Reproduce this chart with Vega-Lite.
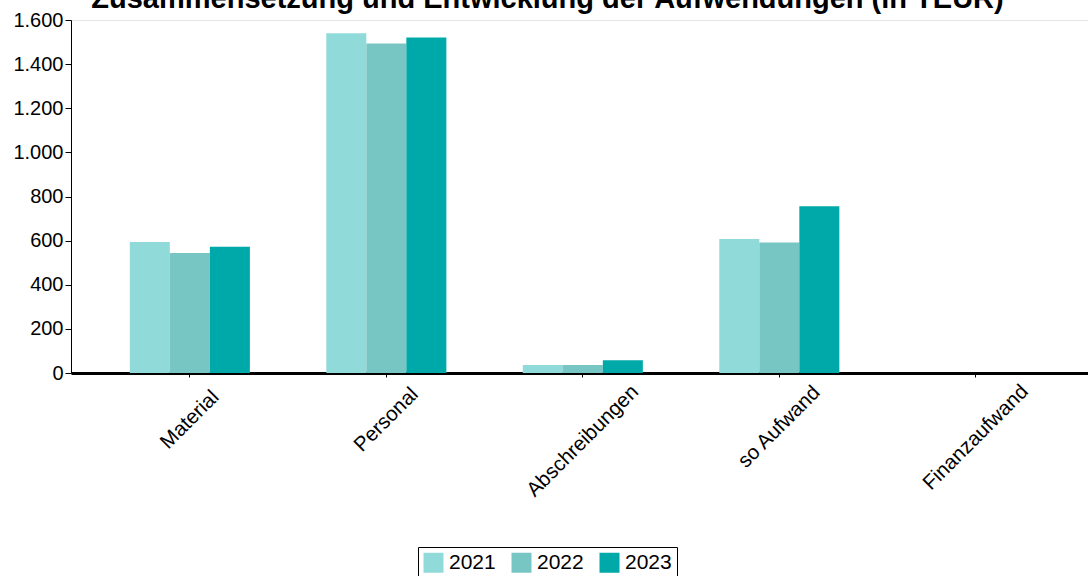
{
  "$schema": "https://vega.github.io/schema/vega-lite/v6.json",
  "autosize": "none",
  "width": 1017,
  "height": 353,
  "padding": {"left": 71, "top": 20, "right": 0, "bottom": 203},
  "background": "white",
  "config": {
    "locale": {"number": {"decimal": ",", "thousands": ".", "grouping": [3], "currency": ["", " €"]}},
    "view": {"stroke": null},
    "font": "Liberation Sans"
  },
  "title": {
    "text": "Zusammensetzung und Entwicklung der Aufwendungen (in TEUR)",
    "font": "Liberation Sans",
    "fontSize": 29,
    "fontWeight": "bold",
    "color": "#000000",
    "anchor": "middle",
    "baseline": "alphabetic",
    "offset": -3,
    "dx": -32,
    "dy": 24
  },
  "data": {
    "values": [
      {"kategorie": "Material", "jahr": "2021", "wert": 594},
      {"kategorie": "Material", "jahr": "2022", "wert": 544},
      {"kategorie": "Material", "jahr": "2023", "wert": 572},
      {"kategorie": "Personal", "jahr": "2021", "wert": 1540},
      {"kategorie": "Personal", "jahr": "2022", "wert": 1494},
      {"kategorie": "Personal", "jahr": "2023", "wert": 1521},
      {"kategorie": "Abschreibungen", "jahr": "2021", "wert": 36},
      {"kategorie": "Abschreibungen", "jahr": "2022", "wert": 36},
      {"kategorie": "Abschreibungen", "jahr": "2023", "wert": 58},
      {"kategorie": "so Aufwand", "jahr": "2021", "wert": 607},
      {"kategorie": "so Aufwand", "jahr": "2022", "wert": 591},
      {"kategorie": "so Aufwand", "jahr": "2023", "wert": 756},
      {"kategorie": "Finanzaufwand", "jahr": "2021", "wert": 0},
      {"kategorie": "Finanzaufwand", "jahr": "2022", "wert": 0},
      {"kategorie": "Finanzaufwand", "jahr": "2023", "wert": 0}
    ]
  },
  "mark": {"type": "bar"},
  "encoding": {
    "x": {
      "field": "kategorie",
      "type": "nominal",
      "sort": ["Material", "Personal", "Abschreibungen", "so Aufwand", "Finanzaufwand"],
      "scale": {"paddingInner": 0.389, "paddingOuter": 0.2824, "align": 0.53},
      "axis": {
        "title": null,
        "domainColor": "#000000",
        "domainWidth": 3,
        "tickColor": "#000000",
        "tickSize": 4,
        "tickWidth": 1,
        "labelAngle": -45,
        "labelAlign": "center",
        "labelBaseline": "middle",
        "labelFont": "Liberation Sans",
        "labelFontSize": 20.5,
        "labelColor": "#000000",
        "labelPadding": {"expr": "14 + 3.55 * length(datum.label)"},
        "labelOverlap": false,
        "labelLimit": 400
      }
    },
    "xOffset": {
      "field": "jahr",
      "type": "nominal",
      "scale": {"paddingInner": 0, "paddingOuter": 0}
    },
    "y": {
      "field": "wert",
      "type": "quantitative",
      "scale": {"domain": [0, 1600], "nice": false},
      "axis": {
        "title": null,
        "values": [0, 200, 400, 600, 800, 1000, 1200, 1400, 1600],
        "format": ",d",
        "domainColor": "#000000",
        "domainWidth": 1,
        "tickColor": "#000000",
        "tickSize": 6,
        "labelFont": "Liberation Sans",
        "labelFontSize": 20,
        "labelColor": "#000000",
        "labelPadding": 2,
        "grid": true,
        "gridColor": "#e6e6e6",
        "gridOpacity": {"condition": {"test": "datum.value == 1600", "value": 1}, "value": 0}
      }
    },
    "color": {
      "field": "jahr",
      "type": "nominal",
      "scale": {"domain": ["2021", "2022", "2023"], "range": ["#90dada", "#78c6c4", "#00a9a9"]},
      "legend": {
        "title": null,
        "orient": "none",
        "legendX": 347,
        "legendY": 527,
        "direction": "horizontal",
        "strokeColor": "#000000",
        "fillColor": "#ffffff",
        "padding": 5,
        "symbolType": "square",
        "symbolSize": 400,
        "symbolStrokeWidth": 0,
        "labelFont": "Liberation Sans",
        "labelFontSize": 21,
        "labelColor": "#000000",
        "labelOffset": 5,
        "columnPadding": 15
      }
    }
  }
}
